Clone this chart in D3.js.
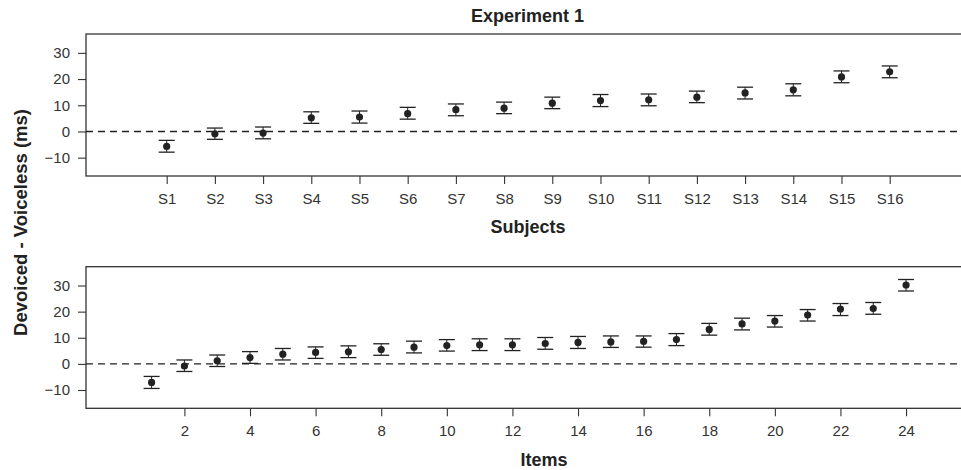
<!DOCTYPE html>
<html><head><meta charset="utf-8">
<script src="https://cdn.jsdelivr.net/npm/d3@7"></script>
<style>body{margin:0;background:#fff}svg{display:block}text{font-family:"Liberation Sans",Arial,sans-serif}</style>
</head><body><svg id="c" width="961" height="470"></svg>
<script>
const subjects = ["S1","S2","S3","S4","S5","S6","S7","S8","S9","S10","S11","S12","S13","S14","S15","S16"];
const subjMean = [-5.7,-0.9,-0.6,5.2,5.5,6.8,8.3,8.9,10.8,11.8,12.1,13.1,14.7,15.9,20.8,22.8];
const subjUpper = [-3.4,1.3,1.7,7.5,7.8,9.2,10.5,11.2,13.1,14.1,14.3,15.4,16.9,18.2,23.1,25.0];
const subjLower = [-7.9,-3.0,-2.8,3.1,3.2,4.7,6.0,6.8,8.7,9.5,9.8,11.0,12.4,13.6,18.6,20.5];

const items = [1,2,3,4,5,6,7,8,9,10,11,12,13,14,15,16,17,18,19,20,21,22,23,24];
const itemMean = [-7.1,-0.8,1.2,2.4,3.7,4.4,4.6,5.5,6.4,7.0,7.3,7.3,7.8,8.2,8.4,8.6,9.3,13.2,15.3,16.4,18.7,21.0,21.2,30.2];
const itemUpper = [-4.8,1.5,3.4,4.7,5.9,6.5,6.9,7.7,8.7,9.3,9.6,9.6,10.1,10.5,10.7,10.7,11.6,15.5,17.5,18.5,20.8,23.1,23.5,32.3];
const itemLower = [-9.4,-2.9,-1.0,0.2,1.5,2.1,2.4,3.3,4.2,4.9,5.1,5.1,5.6,5.9,6.3,6.4,7.0,11.0,13.0,14.1,16.4,18.5,19.0,27.9];
const itemTicks = [2,4,6,8,10,12,14,16,18,20,22,24];
const yTicks = [-10,0,10,20,30];

const svg = d3.select("#c");
const ink = "#222", frame = "#333";
const FONT = '"Liberation Sans",Arial,sans-serif';
const L = 86, R = 971;

function panel(top, bottom, xs, xTickVals, xTickFmt, mean, upper, lower, xdomain, xlabel, xlabelX, xlabelY) {
  const x = d3.scaleLinear().domain(xdomain).range([L, R]);
  const y = d3.scaleLinear().domain([-17, 37.2]).range([bottom, top]);
  const g = svg.append("g");
  g.append("rect").attr("x", L).attr("y", top).attr("width", R - L).attr("height", bottom - top)
    .attr("fill", "none").attr("stroke", frame).attr("stroke-width", 1.3);
  const ya = g.append("g").attr("transform", `translate(${L},0)`)
    .call(d3.axisLeft(y).tickValues(yTicks).tickSize(8).tickPadding(8));
  ya.select(".domain").remove();
  ya.attr("font-family", FONT).attr("font-size", 15);
  ya.selectAll("line").attr("stroke", frame).attr("stroke-width", 1.1);
  ya.selectAll("text").attr("fill", "#333");
  const xa = g.append("g").attr("transform", `translate(0,${bottom})`)
    .call(d3.axisBottom(x).tickValues(xTickVals).tickFormat(xTickFmt).tickSize(8).tickPadding(9));
  xa.select(".domain").remove();
  xa.attr("font-family", FONT).attr("font-size", 15);
  xa.selectAll("line").attr("stroke", frame).attr("stroke-width", 1.1);
  xa.selectAll("text").attr("fill", "#333");
  g.append("line").attr("x1", L).attr("x2", R).attr("y1", y(0)).attr("y2", y(0))
    .attr("stroke", ink).attr("stroke-width", 1.4).attr("stroke-dasharray", "7,5");
  const data = xs.map((v, i) => ({ x: v, m: mean[i], u: upper[i], l: lower[i] }));
  const pts = g.selectAll(".pt").data(data).join("g");
  pts.append("line").attr("x1", d => x(d.x)).attr("x2", d => x(d.x)).attr("y1", d => y(d.u)).attr("y2", d => y(d.l))
    .attr("stroke", ink).attr("stroke-width", 1);
  pts.append("line").attr("x1", d => x(d.x) - 8).attr("x2", d => x(d.x) + 8).attr("y1", d => y(d.u)).attr("y2", d => y(d.u))
    .attr("stroke", ink).attr("stroke-width", 1.3);
  pts.append("line").attr("x1", d => x(d.x) - 8).attr("x2", d => x(d.x) + 8).attr("y1", d => y(d.l)).attr("y2", d => y(d.l))
    .attr("stroke", ink).attr("stroke-width", 1.3);
  pts.append("circle").attr("cx", d => x(d.x)).attr("cy", d => y(d.m)).attr("r", 3.6).attr("fill", ink);
  svg.append("text").attr("x", xlabelX).attr("y", xlabelY).attr("text-anchor", "middle")
    .attr("font-size", 18).attr("font-weight", "bold").attr("fill", "#222").text(xlabel);
}

panel(34, 176, subjects.map((s, i) => i + 1), subjects.map((s, i) => i + 1), (d) => subjects[d - 1],
  subjMean, subjUpper, subjLower, [-0.674, 17.687], "Subjects", 528, 233);
panel(266.7, 408.3, items, itemTicks, d3.format("d"),
  itemMean, itemUpper, itemLower, [-1.0, 25.98], "Items", 544, 466);

svg.append("text").attr("x", 527.5).attr("y", 21.5).attr("text-anchor", "middle")
  .attr("font-size", 18).attr("font-weight", "bold").attr("fill", "#222").text("Experiment 1");
svg.append("text").attr("transform", "translate(27,222.5) rotate(-90)").attr("text-anchor", "middle")
  .attr("font-size", 18.5).attr("font-weight", "bold").attr("fill", "#222").text("Devoiced - Voiceless (ms)");
</script></body></html>
